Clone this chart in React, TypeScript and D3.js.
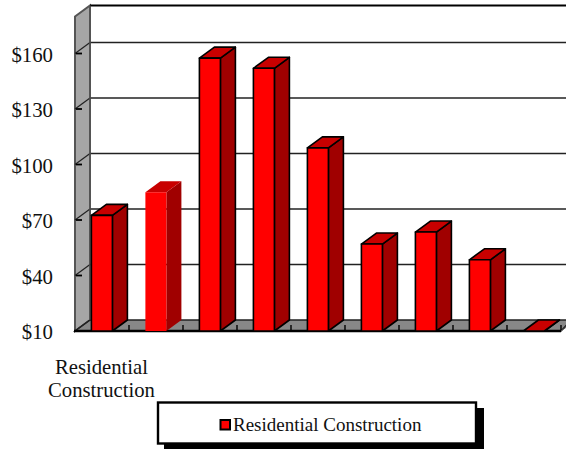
import React from "react";
import * as d3 from "d3";

const categories = ["Residential Construction", "c2", "c3", "c4", "c5", "c6", "c7", "c8", "c9"];
const values = [72.5, 85, 157.5, 152, 109, 57, 63.5, 48.5, 10];
const outlined = [true, false, true, true, true, true, true, true, true];
const yTicks = [10, 40, 70, 100, 130, 160];
const seriesName = "Residential Construction";

const W = 566, H = 451;
const font = "'Liberation Serif', serif";
const dx = 15, dy = -11;

export default function App() {
  const y = d3.scaleLinear().domain([10, 180]).range([331, 16.5]);
  const x = d3.scaleBand<string>().domain(categories).range([75, 561]).paddingInner(0.6).paddingOuter(0.3);
  const left = 75, right = 561, base = y(10), top = y(180);
  const poly = (p: [number, number][]) => p.map((q) => q.join(",")).join(" ");
  return (
    <svg width={W} height={H} style={{ position: "absolute", left: 0, top: 0, background: "#fff" }} fontFamily={font}>
      {/* wall and floor */}
      <polygon points={poly([[left, top], [left + dx, top + dy], [left + dx, base + dy], [left, base]])} fill="#a6a6a6" stroke="#555" strokeWidth={2} />
      <polygon points={poly([[left, base], [left + dx, base + dy], [W + 5, base + dy], [right, base]])} fill="#888888" stroke="#222" strokeWidth={1.4} />
      {/* back border */}
      <line x1={left + dx} x2={W} y1={top + dy} y2={top + dy} stroke="#000" strokeWidth={1.8} />
      {/* gridlines */}
      {yTicks.slice(1).map((t) => (
        <g key={t}>
          <line x1={left + dx} x2={W} y1={y(t) + dy} y2={y(t) + dy} stroke="#222" strokeWidth={1.4} />
          <line x1={left} x2={left + dx} y1={y(t)} y2={y(t) + dy} stroke="#222" strokeWidth={1.2} />
          <line x1={left + 1} x2={left + 7} y1={y(t)} y2={y(t)} stroke="#000" strokeWidth={1.8} />
        </g>
      ))}
      <line x1={left} x2={left + dx} y1={base} y2={base + dy} stroke="#222" strokeWidth={1.2} />
      <line x1={left + dx} x2={left + dx} y1={top + dy} y2={base + dy} stroke="#555" strokeWidth={1.4} />
      {/* front floor edge and ticks */}
      <line x1={left - 1} x2={right} y1={base} y2={base} stroke="#000" strokeWidth={2.6} />
      {categories.map((c, i) => {
        const tx = left + (i + 1) * x.step();
        return <line key={c} x1={tx} x2={tx} y1={base} y2={base - 6} stroke="#000" strokeWidth={1.4} />;
      })}
      <line x1={right} x2={right + dx} y1={base} y2={base + dy} stroke="#555" strokeWidth={1} />
      {/* bars */}
      {categories.map((c, i) => {
        const bw = 21, bx = x(c)! + 0.2, by = y(values[i]);
        const st = outlined[i] ? "#000" : "none";
        const sw = outlined[i] ? 1.6 : 0;
        return (
          <g key={c} strokeLinejoin="round">
            <polygon points={poly([[bx + bw, by], [bx + bw + dx, by + dy], [bx + bw + dx, base + dy], [bx + bw, base]])} fill="#a00000" stroke={st} strokeWidth={sw} />
            <polygon points={poly([[bx, by], [bx + dx, by + dy], [bx + bw + dx, by + dy], [bx + bw, by]])} fill="#c80000" stroke={st} strokeWidth={sw} />
            {values[i] > 10 && <rect x={bx} y={by} width={bw} height={base - by} fill="#ff0000" stroke={st} strokeWidth={sw} />}
          </g>
        );
      })}
      {/* y labels */}
      {yTicks.map((t) => (
        <text key={t} x={53} y={y(t) + 8} textAnchor="end" fontSize={20.8} fill="#111">{"$" + t}</text>
      ))}
      {/* category label */}
      <text textAnchor="middle" fontSize={20.7} fill="#111">
        <tspan x={101.5} y={374}>Residential</tspan>
        <tspan x={101.5} y={397}>Construction</tspan>
      </text>
      {/* legend */}
      <rect x={164} y={408} width={320} height={41} fill="#000" />
      <rect x={158} y={402.5} width={318} height={41} fill="#fff" stroke="#000" strokeWidth={2.4} />
      <rect x={220.5} y={420} width={9.5} height={9.5} fill="#ff0000" stroke="#000" strokeWidth={2} />
      <text x={233} y={431} fontSize={19} fill="#111">{seriesName}</text>
    </svg>
  );
}
